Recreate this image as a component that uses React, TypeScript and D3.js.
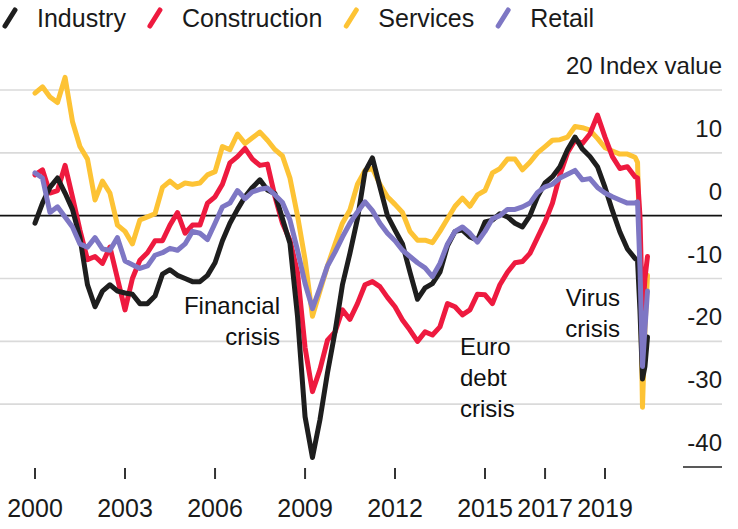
import { useEffect, useRef } from "react";
import * as d3 from "d3";

// quarterly readings, monthly for the 2020 crash
const months = [
  "2000-01", "2000-04", "2000-07", "2000-10",
  "2001-01", "2001-04", "2001-07", "2001-10",
  "2002-01", "2002-04", "2002-07", "2002-10",
  "2003-01", "2003-04", "2003-07", "2003-10",
  "2004-01", "2004-04", "2004-07", "2004-10",
  "2005-01", "2005-04", "2005-07", "2005-10",
  "2006-01", "2006-04", "2006-07", "2006-10",
  "2007-01", "2007-04", "2007-07", "2007-10",
  "2008-01", "2008-04", "2008-07", "2008-10",
  "2009-01", "2009-04", "2009-07", "2009-10",
  "2010-01", "2010-04", "2010-07", "2010-10",
  "2011-01", "2011-04", "2011-07", "2011-10",
  "2012-01", "2012-04", "2012-07", "2012-10",
  "2013-01", "2013-04", "2013-07", "2013-10",
  "2014-01", "2014-04", "2014-07", "2014-10",
  "2015-01", "2015-04", "2015-07", "2015-10",
  "2016-01", "2016-04", "2016-07", "2016-10",
  "2017-01", "2017-04", "2017-07", "2017-10",
  "2018-01", "2018-04", "2018-07", "2018-10",
  "2019-01", "2019-04", "2019-07", "2019-10",
  "2020-01", "2020-02", "2020-03", "2020-04", "2020-05", "2020-06",
];

const industry = [
  -1.2, 2, 4.5, 6,
  3.6, 1, -3.5, -11,
  -14.5, -12, -11, -12,
  -12.3, -12.5, -14, -14,
  -12.8, -9.3, -8.6, -9.5,
  -10, -10.5, -10.5, -9.5,
  -7.5, -4, -1.2, 1,
  3, 4.5, 5.7, 4.1,
  3.5, -0.5, -4.4, -16,
  -32, -38.5, -32.5, -25,
  -18.5, -11, -6, -0.5,
  7, 9.2, 4.6, 0,
  -2.3, -4.5, -9, -13.3,
  -11.5, -10.8, -9, -4.8,
  -2.5, -2.3, -3.4, -3.9,
  -1, -0.7, 0.3, -0.2,
  -1.2, -1.8, 0, 3,
  5.2, 6.2, 7.8, 10.5,
  12.5, 10.6, 9.4, 7.8,
  4.5, 0.8, -2.6, -5.3,
  -6.8, -7.1, -15, -26, -24, -19.3,
];

const construction = [
  6.5, 7.3, 3.6, 4,
  8, 3, -2.3, -7,
  -6.5, -7.6, -5, -10,
  -15, -10, -7.1, -5.9,
  -4, -4, -1.5, 0.5,
  -2.8, -1.5, -1.5, 2,
  3, 5, 8.4, 9.4,
  10.7, 9, 8, 8.2,
  3, -1.2, -3.9, -9,
  -21, -28, -24.5, -19.8,
  -18.5, -15, -16.5, -14,
  -11, -10.5, -11.3, -13,
  -14.5, -16.6, -18.2, -20,
  -18.5, -19, -17.7, -14,
  -14.5, -15.8, -15, -12.5,
  -12.6, -14, -11, -9,
  -7.5, -7.3, -6, -3.5,
  -1, 2, 6.5, 10,
  12, 11.5, 13, 16,
  12.5, 9.4, 7.5, 7.8,
  6.2, 6, 0, -16, -10, -6.5,
];

const services = [
  19.5, 20.5, 18.9, 18,
  22, 15, 11, 9,
  2.5, 5.5, 3.6, -1.5,
  -2.5, -4.5, -0.7, -0.2,
  0.3, 4.5, 5.5, 4.5,
  5.2, 5, 5.2, 6.5,
  7, 11, 10.5, 13,
  11.5, 12.4, 13.3, 12,
  10.5, 9.5, 6, 0,
  -7, -16, -12, -8,
  -4.5, -1.2, 0.9, 5,
  7.2, 7.5, 5, 3,
  1.8, 0.5, -2.5, -3.9,
  -3.9, -4.3, -2.5, -0.5,
  1.5, 2.8, 1.5, 3.3,
  4, 6.8, 7.5, 9,
  9, 7.3, 8.5, 10,
  11, 12, 12.1, 12.5,
  14.2, 14, 13.6, 12.3,
  10.8, 10.3, 9.8, 9.8,
  9.3, 8.5, -6, -30.5, -18, -9.5,
];

const retail = [
  6.8, 6, 0.5, 1.4,
  -0.2, -1.8, -4.5, -5,
  -3.5, -5.3, -5.5, -3.5,
  -7.2, -7.8, -8.4, -8,
  -6.3, -5.9, -5.2, -5.5,
  -4.5, -2.5, -2.8, -3.8,
  -1.2, 1.4, 2, 4,
  2.7, 3.8, 4.2, 4.4,
  3.3, 2.1, -0.7, -5.5,
  -10.8, -14.8, -11.5, -8,
  -5.8, -3.4, -1.2, 0.6,
  2.2, 0.8, -1.2, -2.8,
  -4, -5.5, -6.5, -7.5,
  -8.3, -9.7, -7.6, -4.5,
  -2.5, -1.8, -2.8, -4.2,
  -2.5, -0.5, 0, 1,
  1, 1.4, 2, 3.7,
  4.6, 5, 6, 6.6,
  7.2, 5.7, 5.9, 4.5,
  3.6, 3, 2.5, 2,
  2, 2.2, -8, -24, -18, -12,
];

const legendNames = ["Industry", "Construction", "Services", "Retail"];
const legendColors = ["#1e1e1e", "#ee1a3f", "#fdc335", "#7e77c4"];
const yTicks = [20, 10, 0, -10, -20, -30, -40];
const xTickYears = [2000, 2003, 2006, 2009, 2012, 2015, 2017, 2019];
const unitLabel = "Index value";
const financialNote = ["Financial", "crisis"];
const euroNote = ["Euro", "debt", "crisis"];
const virusNote = ["Virus", "crisis"];

const W = 738;
const H = 529;
const FONT = "'Liberation Sans', Arial, Helvetica, sans-serif";

export default function App() {
  const svgRef = useRef<SVGSVGElement>(null);

  useEffect(() => {
    if (!svgRef.current) return;
    const svg = d3.select(svgRef.current);
    svg.selectAll("*").remove();

    const parse = d3.timeParse("%Y-%m");
    const dates = months.map((m) => parse(m) as Date);

    const x = d3
      .scaleTime()
      .domain([new Date(2000, 0, 1), new Date(2020, 0, 1)])
      .range([35, 635]);
    const y = d3.scaleLinear().domain([-40, 20]).range([467, 90]);
    const right = 722;

    // grid
    svg
      .append("g")
      .selectAll("line")
      .data(yTicks.filter((v) => v !== 0 && v !== -40))
      .enter()
      .append("line")
      .attr("x1", 0)
      .attr("x2", right)
      .attr("y1", (d) => y(d))
      .attr("y2", (d) => y(d))
      .attr("stroke", "#dadada")
      .attr("stroke-width", 1.6);

    svg
      .append("line")
      .attr("x1", 683)
      .attr("x2", right)
      .attr("y1", y(-40))
      .attr("y2", y(-40))
      .attr("stroke", "#222")
      .attr("stroke-width", 1.6);

    // y labels sit above their gridline
    svg
      .append("g")
      .selectAll("text")
      .data(yTicks)
      .enter()
      .append("text")
      .attr("x", right)
      .attr("y", (d) => y(d) - 16)
      .attr("text-anchor", "end")
      .attr("font-family", FONT)
      .attr("font-size", 24)
      .attr("fill", "#1a1a1a")
      .text((d) => (d === 20 ? `${d} ${unitLabel}` : `${d}`));

    // x ticks
    const xt = svg.append("g");
    xt.selectAll("line")
      .data(xTickYears)
      .enter()
      .append("line")
      .attr("x1", (d) => x(new Date(d, 0, 1)))
      .attr("x2", (d) => x(new Date(d, 0, 1)))
      .attr("y1", 468)
      .attr("y2", 479)
      .attr("stroke", "#333")
      .attr("stroke-width", 2);
    xt.selectAll("text")
      .data(xTickYears)
      .enter()
      .append("text")
      .attr("x", (d) => x(new Date(d, 0, 1)))
      .attr("y", 517)
      .attr("text-anchor", "middle")
      .attr("font-family", FONT)
      .attr("font-size", 25)
      .attr("fill", "#1a1a1a")
      .text((d) => d);

    // zero line
    svg
      .append("line")
      .attr("x1", 0)
      .attr("x2", right)
      .attr("y1", y(0))
      .attr("y2", y(0))
      .attr("stroke", "#111")
      .attr("stroke-width", 1.6);

    // series, services at the back and retail on top
    const line = d3
      .line<number>()
      .x((_, i) => x(dates[i]))
      .y((d) => y(d));

    const drawOrder = [
      { values: services, color: legendColors[2] },
      { values: construction, color: legendColors[1] },
      { values: industry, color: legendColors[0] },
      { values: retail, color: legendColors[3] },
    ];
    drawOrder.forEach((s) => {
      svg
        .append("path")
        .datum(s.values)
        .attr("fill", "none")
        .attr("stroke", s.color)
        .attr("stroke-width", 5)
        .attr("stroke-linejoin", "round")
        .attr("stroke-linecap", "round")
        .attr("d", line);
    });

    // annotations
    const note = (lines: string[], px: number, py: number, anchor: string) => {
      lines.forEach((t, i) => {
        svg
          .append("text")
          .attr("x", px)
          .attr("y", py + i * 31)
          .attr("text-anchor", anchor)
          .attr("font-family", FONT)
          .attr("font-size", 24)
          .attr("fill", "#111")
          .text(t);
      });
    };
    note(financialNote, 280, 314, "end");
    note(euroNote, 460, 355, "start");
    note(virusNote, 620, 306, "end");

    // legend
    let lx = 2;
    legendNames.forEach((name, i) => {
      svg
        .append("line")
        .attr("x1", lx + 3)
        .attr("y1", 26)
        .attr("x2", lx + 13)
        .attr("y2", 10)
        .attr("stroke", legendColors[i])
        .attr("stroke-width", 5)
        .attr("stroke-linecap", "round");
      const t = svg
        .append("text")
        .attr("x", lx + 35)
        .attr("y", 27)
        .attr("font-family", FONT)
        .attr("font-size", 25)
        .attr("fill", "#1a1a1a")
        .text(name);
      const w = (t.node() as SVGTextElement).getComputedTextLength();
      lx = lx + 35 + w + 21;
    });
  }, []);

  return (
    <svg
      ref={svgRef}
      width={W}
      height={H}
      style={{ position: "absolute", left: 0, top: 0, background: "#fff" }}
    />
  );
}
